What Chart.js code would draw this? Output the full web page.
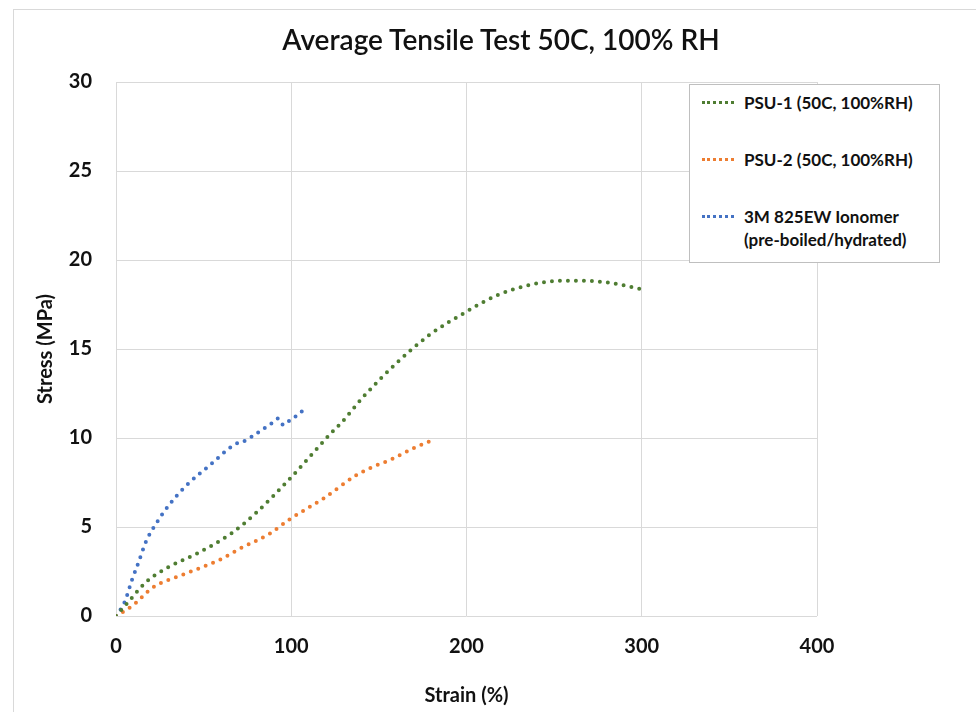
<!DOCTYPE html>
<html>
<head>
<meta charset="utf-8">
<script src="https://cdn.jsdelivr.net/npm/chart.js@4/dist/chart.umd.min.js"></script>
<style>
  html, body { margin: 0; padding: 0; background: #fff; }
  #wrap { position: relative; width: 976px; height: 712px; overflow: hidden; font-family: Lato, "Open Sans", sans-serif; }
  #frame { position: absolute; left: 13px; top: 9px; width: 1000px; height: 800px; border-left: 1px solid #d9d9d9; border-top: 1px solid #d9d9d9; }
  #title { position: absolute; left: 0; width: 1002px; top: 22px; text-align: center; font-size: 28px; font-weight: 600; color: #111; }
  #legend { position: absolute; left: 689px; top: 84px; width: 251px; height: 179px; border: 1px solid #bfbfbf; background: #fff; box-sizing: border-box; }
  .item { position: absolute; left: 12px; display: flex; align-items: flex-start; font-weight: bold; font-size: 17px; color: #111; line-height: 23px; white-space: pre-line; }
  .swatch { width: 32px; margin-top: 10px; margin-right: 10px; border-top: 3px dotted; }
  canvas { position: absolute; left: 0; top: 0; }
</style>
</head>
<body>
<div id="wrap">
  <div id="frame"></div>
  <canvas id="tensileChart" width="976" height="712"></canvas>
  <div id="title">Average Tensile Test 50C, 100% RH</div>
  <div id="legend"></div>
</div>
<script>
// PSU-1 averaged curve
var psu1Strain = [0, 8, 16.5, 29, 46, 66, 80, 100, 122, 129, 141, 160, 179, 200, 217, 236, 255, 274, 288.5, 302];
var psu1Stress = [0, 0.9, 1.85, 2.7, 3.5, 4.65, 5.8, 7.8, 10.2, 10.9, 12.3, 14.2, 15.8, 17.1, 18.0, 18.6, 18.84, 18.8, 18.6, 18.3];

// PSU-2 averaged curve
var psu2Strain = [0, 9.7, 21, 37.5, 59, 71, 88, 99.3, 118.3, 137.3, 146.8, 156.3, 169.6, 182];
var psu2Stress = [0, 0.6, 1.6, 2.3, 3.15, 3.8, 4.65, 5.45, 6.6, 7.92, 8.39, 8.76, 9.42, 9.94];

// 3M 825EW reference membrane
var nafStrain = [0, 5, 9, 12.7, 17.5, 22.3, 30, 39.4, 53.6, 68, 72.6, 77.4, 88.8, 92.6, 95.5, 99.3, 103.1, 107, 108.4];
var nafStress = [0, 0.8, 2.0, 2.97, 4.27, 5.1, 6.2, 7.26, 8.48, 9.65, 9.8, 10.07, 10.83, 11.1, 10.73, 11.0, 11.25, 11.52, 11.33];

var seriesLabels = ['PSU-1 (50C, 100%RH)', 'PSU-2 (50C, 100%RH)', '3M 825EW Ionomer\n(pre-boiled/hydrated)'];
var seriesColors = ['#4f7d32', '#ed7d31', '#4472c4'];

var xTicks = [0, 100, 200, 300, 400];
var yTicks = [0, 5, 10, 15, 20, 25, 30];

function toPoints(xs, ys) {
    return xs.map(function (x, i) { return { x: x, y: ys[i] }; });
}

var curves = [
    toPoints(psu1Strain, psu1Stress),
    toPoints(psu2Strain, psu2Stress),
    toPoints(nafStrain, nafStress)
];

var tickFont = { family: 'Lato', size: 20, weight: 'bold' };

var ctx = document.getElementById('tensileChart').getContext('2d');
var chart = new Chart(ctx, {
    type: 'scatter',
    data: {
        datasets: curves.map(function (pts, i) {
            return {
                label: seriesLabels[i],
                data: pts,
                showLine: true,
                borderColor: seriesColors[i],
                backgroundColor: seriesColors[i],
                borderWidth: 4,
                borderDash: [0, 8],
                borderCapStyle: 'round',
                cubicInterpolationMode: 'monotone',
                pointRadius: 0
            };
        })
    },
    options: {
        responsive: false,
        animation: false,
        layout: { padding: { left: 0, right: 159, top: 82, bottom: 0 } },
        plugins: {
            legend: { display: false },
            tooltip: { enabled: false }
        },
        scales: {
            x: {
                type: 'linear',
                min: 0,
                max: 400,
                afterBuildTicks: function (axis) { axis.ticks = xTicks.map(function (v) { return { value: v }; }); },
                afterFit: function (axis) { axis.height = 96; },
                grid: { color: '#d9d9d9', lineWidth: 1, drawTicks: false },
                border: { display: false },
                ticks: { font: tickFont, color: '#111', padding: 19, maxRotation: 0 },
                title: { display: true, text: 'Strain (%)', font: tickFont, color: '#111', padding: { top: 2 } }
            },
            y: {
                min: 0,
                max: 30,
                afterBuildTicks: function (axis) { axis.ticks = yTicks.map(function (v) { return { value: v }; }); },
                afterFit: function (axis) { axis.width = 116; },
                grid: { color: '#d9d9d9', lineWidth: 1, drawTicks: false },
                border: { display: false },
                ticks: { font: tickFont, color: '#111', padding: 24 },
                title: { display: true, text: 'Stress (MPa)', font: tickFont, color: '#111', padding: { top: 34, bottom: 0 } }
            }
        }
    }
});

// build the boxed legend from the datasets
var legendBox = document.getElementById('legend');
var rowTops = [6, 63, 120];
chart.data.datasets.forEach(function (ds, i) {
    var item = document.createElement('div');
    item.className = 'item';
    item.style.top = rowTops[i] + 'px';
    var sw = document.createElement('span');
    sw.className = 'swatch';
    sw.style.borderTopColor = ds.borderColor;
    var txt = document.createElement('span');
    txt.textContent = ds.label;
    item.appendChild(sw);
    item.appendChild(txt);
    legendBox.appendChild(item);
});
</script>
</body>
</html>
